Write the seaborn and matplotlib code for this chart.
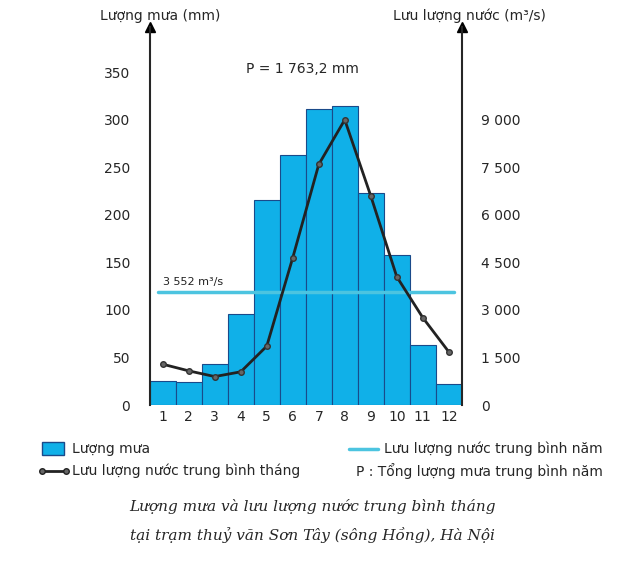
import numpy as np
import matplotlib.pyplot as plt
import seaborn as sns

months = [1, 2, 3, 4, 5, 6, 7, 8, 9, 10, 11, 12]
rain = [25, 24, 43, 96, 216, 263, 311, 314, 223, 158, 63, 22]
flow = [1290, 1080, 900, 1050, 1860, 4650, 7590, 9000, 6600, 4050, 2760, 1680]
flow_mean = 3552
left_ticks = [0, 50, 100, 150, 200, 250, 300, 350]
right_ticks = [0, 1500, 3000, 4500, 6000, 7500, 9000]
right_labels = ["0", "1 500", "3 000", "4 500", "6 000", "7 500", "9 000"]

sns.set_style("white")
plt.rcParams["font.family"] = ["DejaVu Sans"]

fig = plt.figure(figsize=(6.24, 5.65), dpi=100)
ax = fig.add_axes([0.24, 0.283, 0.50, 0.67])
ax2 = ax.twinx()

sns.barplot(x=[str(m) for m in months], y=rain, ax=ax, color="#10b0e8",
            edgecolor="#1a4a8a", linewidth=0.8, width=1.0, saturation=1)
ax.set_xlim(-0.5, 11.5)
ax.set_ylim(0, 398)
ax2.set_ylim(0, 398 * 30)
ax.set_yticks(left_ticks)
ax2.set_yticks(right_ticks)
ax2.set_yticklabels(right_labels)

xs = np.arange(12)
ax2.plot(xs, flow, color="#222222", lw=2, marker="o", ms=4,
         mfc="#666666", mec="#333333", zorder=5)
ax2.plot([-0.2, 11.2], [flow_mean, flow_mean], color="#4cc4e0", lw=2.5)
ax2.text(0, flow_mean + 250, "3 552 m³/s", fontsize=8, color="#222222")

for a in (ax, ax2):
    for s in ("top",):
        a.spines[s].set_visible(False)
    a.tick_params(length=0, labelsize=10)
ax.spines["right"].set_visible(False)
ax2.spines["left"].set_visible(False)
ax2.spines["bottom"].set_visible(False)
ax.spines["left"].set_linewidth(1.5)
ax2.spines["right"].set_linewidth(1.5)
ax.spines["bottom"].set_visible(False)
ax.set_xlabel("")
ax.tick_params(axis="y", pad=14)
ax2.tick_params(axis="y", pad=14)
ax.plot(0, 1, "^k", ms=7, transform=ax.transAxes, clip_on=False)
ax2.plot(1, 1, "^k", ms=7, transform=ax2.transAxes, clip_on=False)

fig.text(0.16, 0.965, "Lượng mưa (mm)", fontsize=10)
fig.text(0.63, 0.965, "Lưu lượng nước (m³/s)", fontsize=10)
fig.text(0.395, 0.87, "P = 1 763,2 mm", fontsize=10)

# legend
fig.patches.append(plt.Rectangle((0.068, 0.195), 0.035, 0.022, transform=fig.transFigure,
                                 facecolor="#10b0e8", edgecolor="#1a4a8a"))
fig.text(0.115, 0.206, "Lượng mưa", fontsize=10, va="center")
fig.lines.append(plt.Line2D([0.56, 0.605], [0.206, 0.206], transform=fig.transFigure,
                            color="#4cc4e0", lw=2.5))
fig.text(0.615, 0.206, "Lưu lượng nước trung bình năm", fontsize=10, va="center")
fig.lines.append(plt.Line2D([0.068, 0.105], [0.166, 0.166], transform=fig.transFigure,
                            color="#222222", lw=2, marker="o", ms=4, mfc="#666666",
                            markevery=[0, 1]))
fig.text(0.115, 0.166, "Lưu lượng nước trung bình tháng", fontsize=10, va="center")
fig.text(0.57, 0.166, "P : Tổng lượng mưa trung bình năm", fontsize=10, va="center")

fig.text(0.5, 0.095, "Lượng mưa và lưu lượng nước trung bình tháng", fontsize=11,
         style="italic", ha="center", family="DejaVu Serif")
fig.text(0.5, 0.045, "tại trạm thuỷ văn Sơn Tây (sông Hồng), Hà Nội", fontsize=11,
         style="italic", ha="center", family="DejaVu Serif")

fig.savefig("out.png", dpi=100)
